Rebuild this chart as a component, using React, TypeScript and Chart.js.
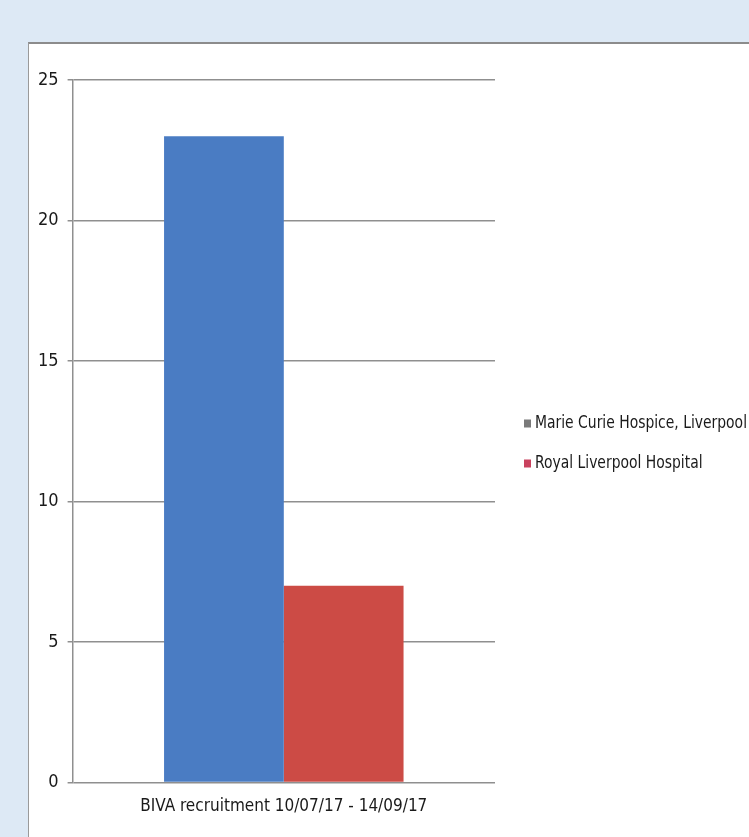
import React, { useEffect, useRef } from "react";
import { Chart, registerables } from "chart.js";

Chart.register(...registerables);

const categories = ["BIVA recruitment 10/07/17 - 14/09/17"];
const seriesNames = ["Marie Curie Hospice, Liverpool", "Royal Liverpool Hospital"];
const marieCurie = [23];
const royalLiverpool = [7];
const barColors = ["#4a7cc3", "#cc4b45"];
const legendColors = ["#7a7a7a", "#c9425e"];
const yTicks = [0, 5, 10, 15, 20, 25];

const FONT = "'DejaVu Sans Condensed', 'Liberation Sans Narrow', sans-serif";

const sideLegend = {
  id: "sideLegend",
  afterDraw(chart: any) {
    const ctx = chart.ctx;
    const area = chart.chartArea;
    const mid = chart.height / 2;
    ctx.save();
    ctx.font = `18px ${FONT}`;
    ctx.textBaseline = "middle";
    ctx.textAlign = "left";
    const labels = chart.data.datasets.map((d: any) => d.label as string);
    const widest = Math.max(...labels.map((t: string) => ctx.measureText(t).width));
    const k = Math.min(1, 212 / widest);
    labels.forEach((t: string, i: number) => {
      const y = mid - 17 + i * 40;
      const x = area.right + 29;
      ctx.fillStyle = legendColors[i];
      ctx.fillRect(x, y - 4, 7, 8);
      ctx.fillStyle = "#1a1a1a";
      ctx.fillText(t, x + 11, y, ctx.measureText(t).width * k);
    });
    ctx.restore();
  },
};

export default function App() {
  const ref = useRef<HTMLCanvasElement | null>(null);

  useEffect(() => {
    if (!ref.current) return;
    const chart = new Chart(ref.current, {
      type: "bar",
      data: {
        labels: categories,
        datasets: [
          { label: seriesNames[0], data: marieCurie, backgroundColor: barColors[0], borderWidth: 0 },
          { label: seriesNames[1], data: royalLiverpool, backgroundColor: barColors[1], borderWidth: 0 },
        ],
      },
      options: {
        animation: false,
        responsive: false,
        maintainAspectRatio: false,
        layout: { padding: { top: 36, left: 0, right: 254, bottom: 14 } },
        datasets: { bar: { categoryPercentage: 0.567, barPercentage: 1 } },
        plugins: {
          tooltip: { enabled: false },
          legend: { display: false },
        },
        scales: {
          x: {
            grid: { display: false },
            border: { display: false },
            ticks: { color: "#1a1a1a", font: { family: FONT, size: 17 }, padding: 6 },
          },
          y: {
            min: 0,
            max: 25,
            afterBuildTicks: (axis: any) => {
              axis.ticks = yTicks.map((v) => ({ value: v }));
            },
            grid: { color: "#8f8f8f", lineWidth: 1.5, tickLength: 5, drawTicks: true },
            border: { display: true, color: "#8f8f8f", width: 1.5 },
            ticks: { color: "#1a1a1a", font: { family: FONT, size: 18 }, padding: 9 },
          },
        },
      },
      plugins: [sideLegend],
    });
    return () => chart.destroy();
  }, []);

  return (
    <div style={{ position: "absolute", left: 0, top: 0, width: 749, height: 837, background: "#dde9f5", overflow: "hidden" }}>
      <div
        style={{
          position: "absolute",
          left: 28,
          top: 42,
          width: 721,
          height: 795,
          background: "#ffffff",
          borderTop: "2px solid #8c8c8c",
          borderLeft: "1px solid #9a9a9a",
          boxSizing: "border-box",
        }}
      >
        <canvas ref={ref} width={720} height={793} style={{ display: "block" }} />
      </div>
    </div>
  );
}
